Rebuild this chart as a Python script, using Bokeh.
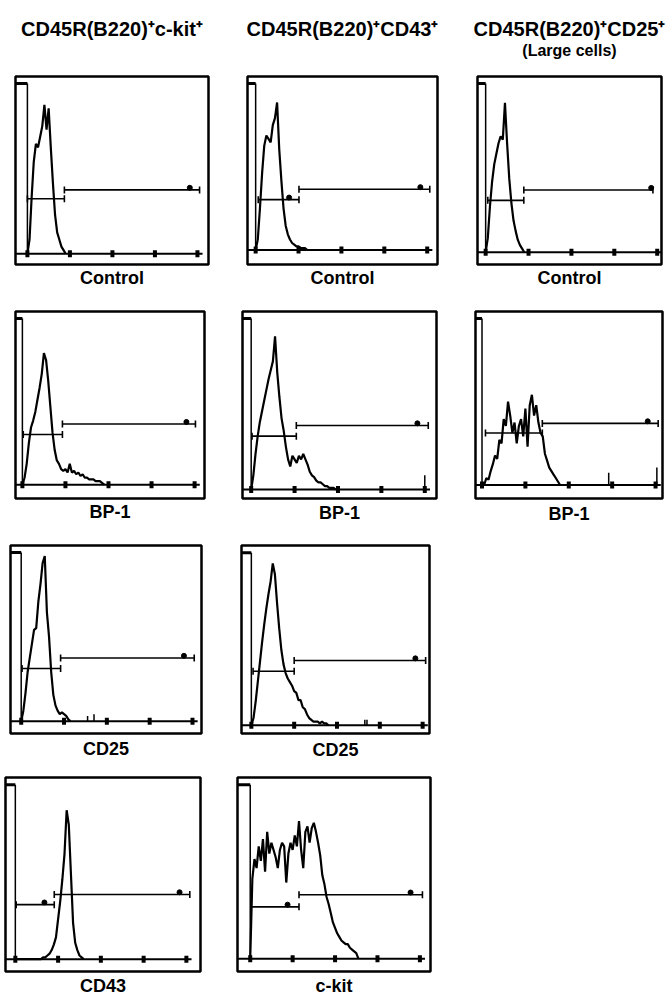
from bokeh.plotting import figure
from bokeh.models import (Range1d, Whisker, TeeHead, ColumnDataSource, Title)
from bokeh.core.properties import value
from bokeh.layouts import column, row
from bokeh.embed import file_html
from bokeh.resources import INLINE

# ---------------- data ----------------
# histogram counts, bins of 0.05 decade starting at 10^0 (log10 fluorescence)
BIN = 0.05
DECADES = [0, 1, 2, 3, 4]
AXIS_TOP = 96

# column 1: CD45R(B220)+ c-kit+
ckit_control = [0, 8, 32, 52, 62, 60, 66, 72, 84, 70, 82, 60, 40, 22, 12, 8, 4, 2, 0]
ckit_bp1 = [0, 4, 12, 24, 33, 37, 42, 49, 56, 64, 76, 72, 60, 45, 30, 20, 14, 12, 9, 8,
            9, 7, 12, 7, 8, 6, 7, 5, 6, 4, 4, 3, 3, 3, 2, 2, 2, 1, 0]
ckit_cd25 = [0, 6, 16, 28, 36, 44, 52, 53, 68, 78, 90, 94, 62, 48, 28, 15, 9, 6, 4, 5,
             4, 3, 1, 0]
ckit_cd43 = [0, 0, 0, 0, 0, 0, 0, 0, 0, 0, 0, 0, 0, 1, 1, 2, 3, 5, 8, 12,
             22, 32, 44, 58, 82, 74, 47, 20, 9, 5, 2, 1, 0]

# column 2: CD45R(B220)+ CD43+
cd43_control = [0, 6, 24, 44, 60, 66, 64, 62, 72, 76, 85, 58, 40, 24, 14, 9, 6, 4, 3, 2,
                2, 1, 1, 1, 0]
cd43_bp1 = [0, 8, 20, 30, 38, 44, 50, 56, 62, 67, 72, 86, 66, 52, 40, 33, 24, 17, 13, 19,
            17, 15, 19, 17, 20, 17, 14, 10, 8, 7, 5, 4, 4, 3, 2, 2, 1, 1, 1, 0]
cd43_cd25 = [0, 4, 13, 24, 35, 46, 56, 65, 73, 80, 90, 84, 68, 54, 42, 34, 29, 26, 24, 22,
             19, 18, 14, 14, 10, 9, 6, 4, 3, 2, 2, 2, 1, 2, 1, 1, 0]
cd43_ckit = [0, 44, 55, 50, 62, 54, 66, 48, 70, 58, 64, 60, 56, 50, 60, 64, 62, 42, 58, 64,
             60, 68, 62, 76, 60, 50, 70, 73, 64, 72, 75, 70, 64, 57, 46, 41, 34, 30, 25, 20,
             17, 14, 12, 10, 9, 8, 8, 6, 5, 4, 3, 0]

# column 3: CD45R(B220)+ CD25+ (large cells)
cd25_control = [0, 8, 26, 40, 50, 56, 62, 66, 64, 85, 62, 42, 28, 18, 12, 7, 4, 2, 0]
cd25_bp1 = [0, 0, 4, 3, 8, 12, 17, 15, 26, 24, 38, 34, 48, 40, 30, 36, 24, 34, 38, 28,
            44, 22, 46, 52, 40, 46, 36, 30, 28, 18, 14, 10, 8, 6, 4, 2, 0]

# isolated events (position in log10, count)
ckit_cd25_events = ([1.55, 1.70], [3, 4])
cd43_cd25_events = ([2.65, 2.70], [3, 3])
cd43_bp1_events = ([4.0], [8])
cd25_bp1_events = ([2.92, 4.03], [7, 10])

# marker gates: [M1 start, M1/M2 boundary, M2 end, M1 level, M2 level]
ckit_control_gates = [0.0, 0.87, 4.05, 31, 36]
ckit_bp1_gates = [0.02, 0.93, 4.02, 29, 35]
ckit_cd25_gates = [0.02, 0.92, 4.04, 30, 36]
ckit_cd43_gates = [0.02, 0.91, 4.08, 30, 35.6]
cd43_control_gates = [0.06, 1.01, 4.06, 29, 35]
cd43_bp1_gates = [0.02, 1.04, 4.08, 30, 36]
cd43_cd25_gates = [0.04, 1.00, 4.07, 30, 36]
cd43_ckit_gates = [0.02, 1.15, 4.06, 28.6, 35.3]
cd25_control_gates = [0.05, 0.89, 3.90, 29.5, 35.4]
cd25_bp1_gates = [0.08, 1.39, 4.06, 30, 35.5]

# position of the small gate name marks on each gate (M1, M2)
ckit_control_marks = [None, 3.82]
ckit_bp1_marks = [None, 3.81]
ckit_cd25_marks = [None, 3.80]
ckit_cd43_marks = [0.68, 3.84]
cd43_control_marks = [0.78, 3.84]
cd43_bp1_marks = [None, 3.83]
cd43_cd25_marks = [None, 3.83]
cd43_ckit_marks = [0.88, 3.78]
cd25_control_marks = [None, 3.86]
cd25_bp1_marks = [None, 3.82]

column_titles = ["CD45R(B220)\u207ac-kit\u207a", "CD45R(B220)\u207aCD43\u207a",
                 "CD45R(B220)\u207aCD25\u207a"]
column3_subtitle = "(Large cells)"

# ---------------- layout / style ----------------
FONT = "Liberation Sans"
PAGE_W = 666
HEADER_H = 62
COLS = [(0, 226), (226, 452), (452, PAGE_W)]
ROWS = [(HEADER_H, 296), (296, 530), (530, 766), (766, 997)]
# frame boxes (left, top, right, bottom) in page pixels
ROW1_BOXES = [(15, 73, 208, 264), (247, 75, 437, 268), (477, 76, 661, 269)]
TITLE_Y = 28
SUBTITLE_Y = 50


def make_panel(counts, gates, marks, label, box, cell, xr, ybot, label_gap, events=None):
    l, t, r, b = box
    cx0, cy0, cx1, cy1 = cell
    p = figure(width=cx1 - cx0, height=cy1 - cy0,
               x_range=Range1d(*xr), y_range=Range1d(ybot, 100),
               x_axis_type=None, y_axis_type=None,
               output_backend="svg", toolbar_location=None,
               min_border_left=l - cx0, min_border_right=cx1 - r,
               min_border_top=t - cy0, min_border_bottom=cy1 - b)
    p.outline_line_color = "black"
    p.outline_line_width = 2.5
    p.outline_line_alpha = 1
    p.background_fill_color = "white"
    p.border_fill_color = "white"

    # channel axis (baseline with decade ticks) and count axis
    p.segment(x0=[xr[0]], y0=[0], x1=[min(4.12, xr[1])], y1=[0],
              line_color="black", line_width=2)
    p.rect(x=DECADES, y=[0] * len(DECADES), width=4, height=7,
           width_units="screen", height_units="screen",
           fill_color="black", line_color=None)
    p.segment(x0=[0], y0=[0], x1=[0], y1=[AXIS_TOP], line_color="black", line_width=1.5)
    p.segment(x0=[xr[0]], y0=[AXIS_TOP], x1=[0], y1=[AXIS_TOP],
              line_color="black", line_width=3)

    xs = [i * BIN for i in range(len(counts))]
    p.line(xs, counts, line_color="black", line_width=2.2)

    if events is not None:
        ex, ey = events
        p.segment(x0=ex, y0=[0] * len(ex), x1=ex, y1=ey, line_color="black", line_width=1.5)

    src = ColumnDataSource(dict(base=[gates[3], gates[4]],
                                lower=[gates[0], gates[1]],
                                upper=[gates[1], gates[2]]))
    p.add_layout(Whisker(source=src, base="base", lower="lower", upper="upper",
                         dimension="width", line_color="black", line_width=1.6,
                         lower_head=TeeHead(size=7, line_width=1.6, line_color="black"),
                         upper_head=TeeHead(size=7, line_width=1.6, line_color="black")))
    mx, my = [], []
    for m, lvl in zip(marks, [gates[3], gates[4]]):
        if m is not None:
            mx.append(m)
            my.append(lvl + 1.2)
    if mx:
        p.scatter(mx, my, marker="circle", size=5, color="black")

    p.add_layout(Title(text=label, align="center", text_font=FONT,
                       text_font_size="18px", text_font_style="bold",
                       text_color="black", standoff=label_gap), "below")
    return p


def cell(ci, ri):
    return (COLS[ci][0], ROWS[ri][0], COLS[ci][1], ROWS[ri][1])


# column header strip
header = figure(width=PAGE_W, height=HEADER_H, x_range=Range1d(0, PAGE_W),
                y_range=Range1d(HEADER_H, 0), x_axis_type=None, y_axis_type=None,
                output_backend="svg", toolbar_location=None,
                min_border=0, outline_line_color=None)
header.border_fill_color = "white"
header_x = [(bx[0] + bx[2]) / 2 for bx in ROW1_BOXES]
header.text(x=header_x, y=[TITLE_Y] * 3, text=column_titles,
            text_font=value(FONT), text_font_size=value("20px"),
            text_font_style=value("bold"), text_align="center",
            text_baseline="middle", text_color="black")
header.text(x=[header_x[2]], y=[SUBTITLE_Y], text=[column3_subtitle],
            text_font=value(FONT), text_font_size=value("16px"),
            text_font_style=value("bold"), text_align="center",
            text_baseline="middle", text_color="black")

p11 = make_panel(ckit_control, ckit_control_gates, ckit_control_marks, "Control",
                 ROW1_BOXES[0], cell(0, 0), (-0.28, 4.26), -6.1, 3)
p12 = make_panel(cd43_control, cd43_control_gates, cd43_control_marks, "Control",
                 ROW1_BOXES[1], cell(1, 0), (-0.19, 4.24), -8.4, 3)
p13 = make_panel(cd25_control, cd25_control_gates, cd25_control_marks, "Control",
                 ROW1_BOXES[2], cell(2, 0), (-0.19, 4.10), -7.0, 2)

p21 = make_panel(ckit_bp1, ckit_bp1_gates, ckit_bp1_marks, "BP-1",
                 (15, 305, 204, 498), cell(0, 1), (-0.16, 4.23), -8.0, 3)
p22 = make_panel(cd43_bp1, cd43_bp1_gates, cd43_bp1_marks, "BP-1",
                 (242, 311, 436, 498), cell(1, 1), (-0.20, 4.27), -5.0, 4,
                 events=cd43_bp1_events)
p23 = make_panel(cd25_bp1, cd25_bp1_gates, cd25_bp1_marks, "BP-1",
                 (475, 311, 662, 503), cell(2, 1), (-0.15, 4.16), -7.8, 6,
                 events=cd25_bp1_events)

p31 = make_panel(ckit_cd25, ckit_cd25_gates, ckit_cd25_marks, "CD25",
                 (10, 543, 201, 734), cell(0, 2), (-0.25, 4.21), -7.0, 7,
                 events=ckit_cd25_events)
p32 = make_panel(cd43_cd25, cd43_cd25_gates, cd43_cd25_marks, "CD25",
                 (241, 545, 429, 733), cell(1, 2), (-0.23, 4.16), -4.6, 9,
                 events=cd43_cd25_events)

p41 = make_panel(ckit_cd43, ckit_cd43_gates, ckit_cd43_marks, "CD43",
                 (5, 777, 200, 972), cell(0, 3), (-0.23, 4.33), -6.8, 4)
p42 = make_panel(cd43_ckit, cd43_ckit_gates, cd43_ckit_marks, "c-kit",
                 (237, 773, 430, 973), cell(1, 3), (-0.30, 4.25), -7.1, 4)

layout = column(header, row(p11, p12, p13), row(p21, p22, p23), row(p31, p32),
                row(p41, p42))

open("out.html", "w").write(file_html(layout, INLINE))
